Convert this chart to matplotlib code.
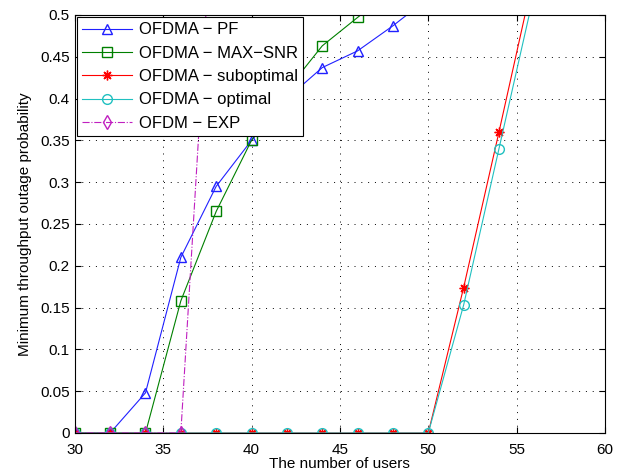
import matplotlib
matplotlib.use('Agg')
from matplotlib import pyplot as plt
from matplotlib.ticker import FormatStrFormatter
import numpy as np

plt.rcParams['font.family'] = ['Liberation Sans', 'DejaVu Sans']

users = [30, 32, 34, 36, 38, 40, 42, 44, 46, 48, 50, 52, 54, 56]
pf = [0, 0, 0.048, 0.21, 0.295, 0.35, 0.40, 0.437, 0.457, 0.487, 0.52]
max_snr = [0, 0, 0, 0.158, 0.265, 0.35, 0.41, 0.463, 0.497, 0.53]
subopt = [0, 0, 0, 0, 0, 0, 0, 0, 0, 0, 0, 0.174, 0.36, 0.55]
opt = [0, 0, 0, 0, 0, 0, 0, 0, 0, 0, 0, 0.153, 0.34, 0.527]
exp_ = [0, 0, 0, 0, 0.706]
labels = ['OFDMA \u2212 PF', 'OFDMA \u2212 MAX\u2212SNR', 'OFDMA \u2212 suboptimal',
          'OFDMA \u2212 optimal', 'OFDM \u2212 EXP']

fig = plt.figure(figsize=(6.18, 4.74), dpi=100)
ax = fig.add_axes([0.121, 0.0865, 0.858, 0.882])

ms = 7
ax.plot(users[:len(pf)], pf, '-^', color='#2020ff', mfc='none', ms=ms, lw=0.8, label=labels[0])
ax.plot(users[:len(max_snr)], max_snr, '-s', color='#008000', mfc='none', ms=ms, lw=0.8, label=labels[1])
ax.plot(users, subopt, '-', marker=(8, 2, 0), color='#ff0000', ms=ms, mew=1.0, lw=0.8, label=labels[2])
ax.plot(users, opt, '-o', color='#20c0c0', mfc='none', ms=ms, lw=0.8, label=labels[3])
ax.plot(users[:len(exp_)], exp_, '-.d', color='#c020c0', mfc='none', ms=ms, lw=0.8, label=labels[4])

ax.set_xlim(30, 60)
ax.set_ylim(0, 0.5)
ax.set_xticks(np.arange(30, 61, 5))
ax.set_yticks(np.arange(0, 0.501, 0.05))
ax.yaxis.set_major_formatter(FormatStrFormatter('%g'))
ax.tick_params(direction='in', top=True, right=True, labelsize=11, length=4)
ax.tick_params(axis='x', pad=7)
ax.grid(True, linestyle=(0, (1, 6)), color='black', linewidth=0.7)
for s in ax.spines.values():
    s.set_linewidth(0.8)

ax.set_xlabel('The number of users', fontsize=11, labelpad=0)
ax.set_ylabel('Minimum throughput outage probability', fontsize=11, labelpad=6)

leg = ax.legend(loc='upper left', fontsize=12, fancybox=False, framealpha=1,
                edgecolor='black', borderaxespad=0.15, handlelength=3.0,
                handletextpad=0.4, labelspacing=0.5, borderpad=0.3)
leg.get_frame().set_linewidth(0.8)

fig.savefig('out.png', dpi=100)
